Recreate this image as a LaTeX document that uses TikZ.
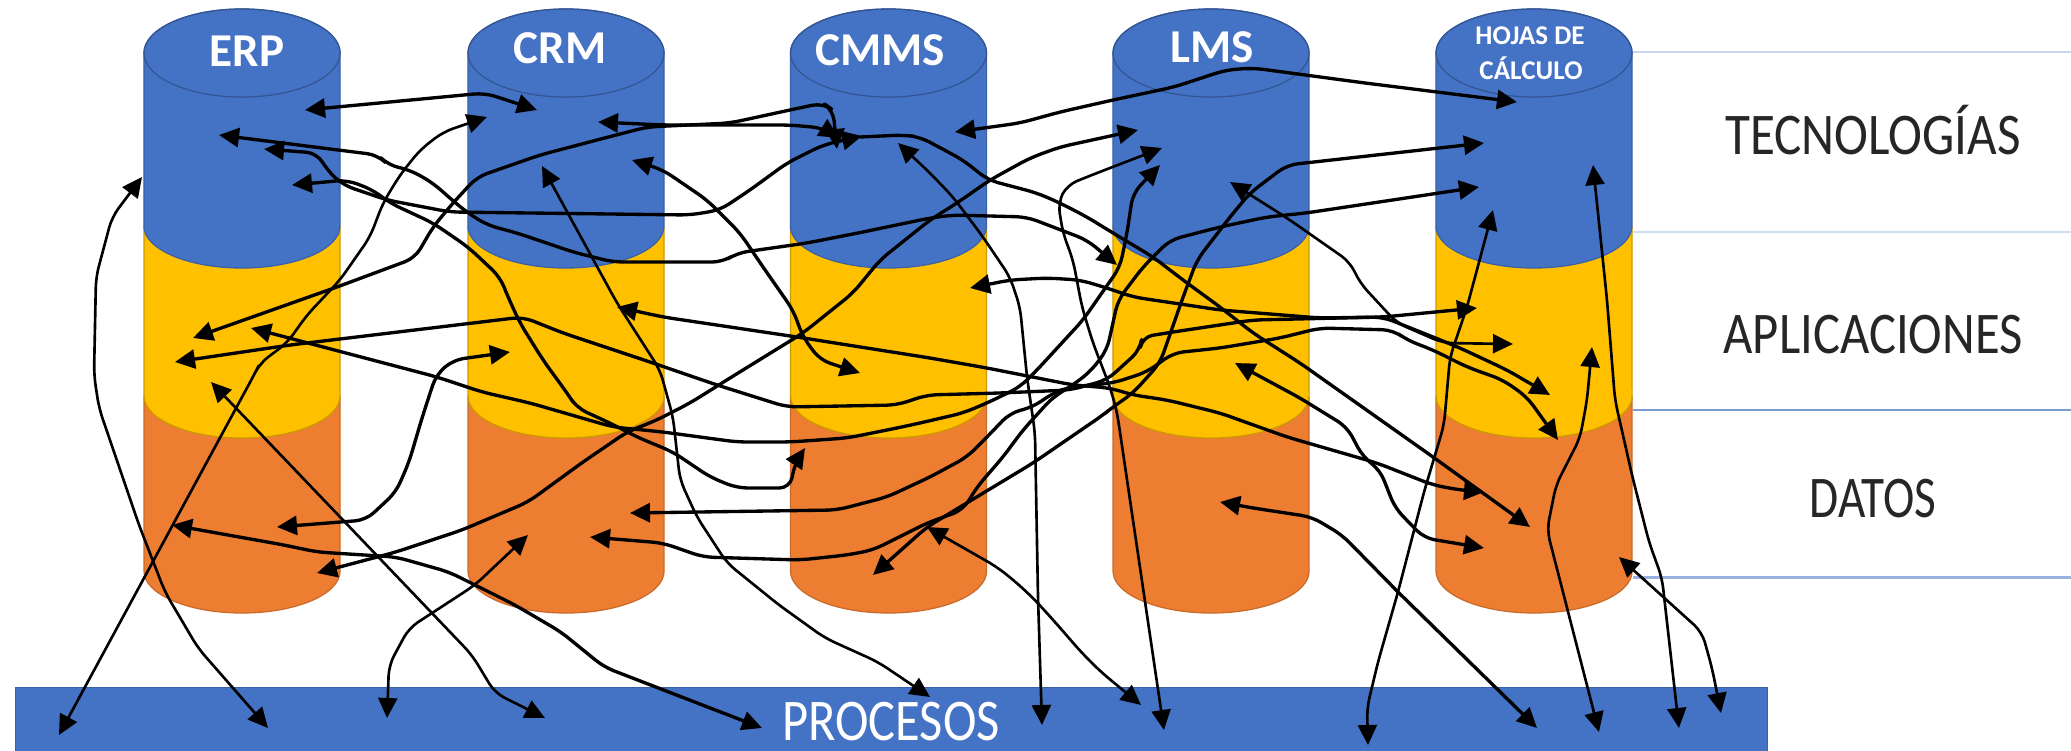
\documentclass[tikz,border=0pt]{standalone}
\usepackage{fontspec}
\setmainfont{Carlito}
\usetikzlibrary{arrows.meta}
\definecolor{cblue}{HTML}{4472C4}
\definecolor{cyel}{HTML}{FFC000}
\definecolor{corg}{HTML}{ED7D31}
\tikzset{
  >={Triangle[length=0.2cm,width=0.19cm]},
  wire/.style={draw=black,line width=0.95pt,rounded corners=3pt,line join=round},
  thinwire/.style={wire,line width=0.75pt},
  rule/.style={line width=0.85pt},
  headlabel/.style={text=white,font=\bfseries\fontsize{13.4}{15}\selectfont,inner sep=0pt},
  smalllabel/.style={text=white,font=\bfseries\fontsize{7.7}{9}\selectfont,inner sep=0pt},
  sidelabel/.style={text=black!85,font=\fontsize{16.8}{20}\selectfont,inner sep=0pt},
}
\begin{document}
\begin{tikzpicture}[x=0.01cm,y=-0.01cm]
\useasboundingbox (0,0) rectangle (2071,751);
% rules at right
\draw[rule,draw=cblue!30] (1633,52) -- (2071,52);
\draw[rule,draw=cblue!25] (1633,232) -- (2071,232);
\draw[rule,draw=cblue!70] (1633,410) -- (2071,410);
\draw[rule,draw=cblue!55] (1633,577) -- (2071,577);
% process bar
\node[fill=cblue,draw=cblue!85!black,line width=0.3pt,inner sep=0pt,minimum width=17.51cm,minimum height=0.64cm,anchor=north west] (bar) at (15,687) {};
% cylinders
\foreach \xa in {144,468,790.5,1113,1436}{
  \pgfmathsetmacro{\xb}{\xa+196}
  \pgfmathsetmacro{\xc}{\xa+98}
  \fill[corg] (\xa,396) -- (\xa,571) arc[start angle=180,end angle=360,x radius=0.98cm,y radius=0.42cm] -- (\xb,396) -- cycle;
  \draw[corg!85!black,line width=0.35pt] (\xa,396) -- (\xa,571) arc[start angle=180,end angle=360,x radius=0.98cm,y radius=0.42cm] -- (\xb,396);
  \fill[cyel] (\xa,226) -- (\xa,396) arc[start angle=180,end angle=360,x radius=0.98cm,y radius=0.42cm] -- (\xb,226) -- cycle;
  \draw[cyel!80!black,line width=0.35pt] (\xa,226) -- (\xa,396) arc[start angle=180,end angle=360,x radius=0.98cm,y radius=0.42cm] -- (\xb,226);
  \fill[cblue] (\xa,53) arc[start angle=180,end angle=0,x radius=0.98cm,y radius=0.44cm] -- (\xb,226) arc[start angle=0,end angle=-180,x radius=0.98cm,y radius=0.42cm] -- cycle;
  \draw[cblue!85!black,line width=0.35pt] (\xa,53) arc[start angle=180,end angle=0,x radius=0.98cm,y radius=0.44cm] -- (\xb,226) arc[start angle=0,end angle=-180,x radius=0.98cm,y radius=0.42cm] -- cycle;
  \draw[cblue!75!black,line width=0.35pt] (\xc,53) ellipse[x radius=0.98cm,y radius=0.44cm];
}
% labels
\node[headlabel] (erp) at (247,51) {ERP};
\node[headlabel] (crm) at (560,48) {CRM};
\node[headlabel] (cmms) at (880,50) {CMMS};
\node[headlabel] (lms) at (1212,47) {LMS};
\node[smalllabel] (hojas) at (1530,36) {HOJAS DE};
\node[smalllabel] (calc) at (1531,68) {CÁLCULO};
\node[sidelabel,anchor=center] (tec) at (1873,130) {\scalebox{0.865}[1]{TECNOLOGÍAS}};
\node[sidelabel] (apl) at (1873,335) {\scalebox{0.857}[1]{APLICACIONES}};
\node[sidelabel] (dat) at (1873,499) {\scalebox{0.8}[1]{DATOS}};
\node[sidelabel,text=white] (pro) at (891,722) {\scalebox{0.855}[1]{PROCESOS}};
% connector ends
\coordinate (a1) at (305,110); \coordinate (b1) at (537,110);
\coordinate (a2) at (219,135); \coordinate (b2) at (1117,265);
\coordinate (a3) at (264,149); \coordinate (b3) at (862,136);
\coordinate (a4) at (598,122); \coordinate (b4) at (839,138);
\coordinate (a5) at (193,338); \coordinate (b5) at (837,149);
\coordinate (a6) at (860,137); \coordinate (b6) at (1530,527);
\coordinate (a7) at (898,143); \coordinate (b7) at (1042,725);
\coordinate (a8) at (632,160); \coordinate (b8) at (860,373);
\coordinate (a9) at (542,166); \coordinate (b9) at (930,697);
\coordinate (a10) at (617,307); \coordinate (b10) at (1484,492);
\coordinate (a11) at (487,117); \coordinate (b11) at (59,735);
\coordinate (a12) at (142,177); \coordinate (b12) at (268,728);
\coordinate (a13) at (175,362); \coordinate (b13) at (1477,308);
\coordinate (a14) at (251,328); \coordinate (b14) at (1160,165);
\coordinate (a15) at (1230,182); \coordinate (b15) at (1513,344);
\coordinate (a16) at (970,288); \coordinate (b16) at (1550,395);
\coordinate (a17) at (1138,130); \coordinate (b17) at (317,573);
\coordinate (a18) at (955,132); \coordinate (b18) at (1517,102);
\coordinate (a19) at (1162,148); \coordinate (b19) at (1164,730);
\coordinate (a23) at (292,185); \coordinate (b23) at (805,448);
\coordinate (a22) at (873,575); \coordinate (b22) at (1484,143);
\coordinate (a25) at (510,352); \coordinate (b25) at (277,527);
\coordinate (a26) at (211,382); \coordinate (b26) at (545,718);
\coordinate (a27) at (172,525); \coordinate (b27) at (762,728);
\coordinate (a28) at (528,535); \coordinate (b28) at (387,718);
\coordinate (a29) at (590,537); \coordinate (b29) at (1479,187);
\coordinate (a30) at (630,513); \coordinate (b30) at (1558,440);
\coordinate (a31) at (927,527); \coordinate (b31) at (1141,705);
\coordinate (a32) at (1220,502); \coordinate (b32) at (1537,728);
\coordinate (a33) at (1493,210); \coordinate (b33) at (1368,745);
\coordinate (a34) at (1592,347); \coordinate (b34) at (1599,732);
\coordinate (a35) at (1593,165); \coordinate (b35) at (1679,728);
\coordinate (a36) at (1619,557); \coordinate (b36) at (1721,713);
\coordinate (a37) at (1235,363); \coordinate (b37) at (1484,548);
% connectors
\draw[wire,<->] (a1) -- (485,93) -- (b1);
\draw[wire,<->] (a2) -- (338,150) -- (378,155) -- (388,165) -- (410,170) -- (433,183) -- (452,200) -- (468,213) -- (487,225) -- (517,233) -- (573,252) -- (613,262) -- (723,262) -- (737,253) -- (807,243) -- (863,232) -- (930,218) -- (953,215) -- (1027,217) -- (1053,227) -- (1087,240) -- (b2);
\draw[wire,<->] (a3) -- (317,153) -- (327,170) -- (343,185) -- (387,200) -- (450,212) -- (690,215) -- (720,210) -- (750,190) -- (787,163) -- (823,145) -- (b3);
\draw[wire,<->] (a4) -- (663,125) -- (790,125) -- (823,128) -- (b4);
\draw[wire,<->] (a5) -- (337,287) -- (415,258) -- (433,227) -- (453,203) -- (477,177) -- (540,155) -- (597,140) -- (647,127) -- (730,123) -- (790,110) -- (823,103) -- (833,110) -- (b5);
\draw[wire,->] (a6) -- (903,135) -- (920,137) -- (963,160) -- (988,180) -- (1037,193) -- (1060,203) -- (1087,217) -- (1113,233) -- (1153,257) -- (1183,280) -- (1220,307) -- (1253,333) -- (1300,363) -- (1433,457) -- (b6);
\draw[thinwire,<->] (a7) -- (930,173) -- (953,197) -- (983,237) -- (1010,277) -- (1020,307) -- (1027,377) -- (1035,433) -- (1038,597) -- (b7);
\draw[wire,<->] (a8) -- (663,170) -- (707,200) -- (740,233) -- (763,267) -- (793,310) -- (803,337) -- (820,360) -- (b8);
\draw[thinwire,<->] (a9) -- (617,303) -- (660,370) -- (673,417) -- (680,480) -- (697,517) -- (727,563) -- (779,605) -- (825,638) -- (878,662) -- (b9);
\draw[wire,<->] (a10) -- (663,317) -- (797,337) -- (930,358) -- (987,368) -- (1073,385) -- (1110,388) -- (1133,395) -- (1167,400) -- (1220,413) -- (1287,437) -- (1377,463) -- (1433,485) -- (1460,490) -- (b10);
\draw[thinwire,<->] (a11) -- (443,132) -- (420,150) -- (400,175) -- (383,203) -- (370,237) -- (340,280) -- (307,315) -- (287,343) -- (260,363) -- (254,375) -- (b11);
\draw[thinwire,<->] (a12) -- (112,217) -- (96,277) -- (94,375) -- (99,408) -- (139,525) -- (165,592) -- (198,648) -- (b12);
\draw[wire,<->] (a13) -- (290,345) -- (473,323) -- (523,317) -- (563,333) -- (650,362) -- (717,385) -- (787,407) -- (897,405) -- (927,395) -- (1000,393) -- (1070,390) -- (1107,380) -- (1140,350) -- (1142,337) -- (1173,332) -- (1253,320) -- (1383,317) -- (b13);
\draw[wire,<->] (a14) -- (437,377) -- (482,392) -- (530,403) -- (613,427) -- (663,432) -- (737,442) -- (790,442) -- (847,438) -- (897,428) -- (920,423) -- (963,413) -- (987,403) -- (1020,387) -- (1037,370) -- (1083,320) -- (1120,267) -- (1127,233) -- (1133,193) -- (b14);
\draw[thinwire,<->] (a15) -- (1287,218) -- (1350,262) -- (1360,283) -- (1397,323) -- (1443,343) -- (b15);
\draw[wire,<->] (a16) -- (1010,280) -- (1047,278) -- (1080,280) -- (1107,288) -- (1133,297) -- (1187,305) -- (1220,310) -- (1320,318) -- (1383,317) -- (1433,337) -- (1460,348) -- (1507,370) -- (b16);
\draw[wire,<->] (a17) -- (1060,147) -- (1030,158) -- (990,180) -- (957,203) -- (930,220) -- (880,260) -- (853,293) -- (803,333) -- (730,378) -- (690,403) -- (657,420) -- (627,432) -- (583,462) -- (528,502) -- (462,530) -- (396,552) -- (b17);
\draw[wire,<->] (a18) -- (1020,123) -- (1060,112) -- (1113,100) -- (1174,87) -- (1226,70) -- (1253,68) -- (1365,83) -- (b18);
\draw[thinwire,<->] (a19) -- (1097,173) -- (1067,185) -- (1058,203) -- (1063,233) -- (1073,260) -- (1082,307) -- (1093,343) -- (1110,387) -- (1117,412) -- (b19);
\draw[wire,<->] (a22) -- (927,527) -- (1033,463) -- (1103,415) -- (1113,407) -- (1133,393) -- (1160,363) -- (1182,300) -- (1197,260) -- (1230,217) -- (1250,193) -- (1287,165) -- (b22);
\draw[wire,<->] (a23) -- (347,180) -- (373,190) -- (390,203) -- (433,223) -- (468,247) -- (500,277) -- (508,297) -- (520,323) -- (543,360) -- (567,393) -- (577,408) -- (610,423) -- (637,437) -- (673,452) -- (710,477) -- (737,488) -- (790,488) -- (795,463) -- (b23);
\draw[wire,<->] (a25) -- (453,360) -- (436,375) -- (422,418) -- (409,462) -- (396,492) -- (366,520) -- (b25);
\draw[thinwire,<->] (a26) -- (472,655) -- (495,693) -- (b26);
\draw[wire,<->] (a27) -- (284,545) -- (317,552) -- (396,557) -- (449,572) -- (515,605) -- (561,632) -- (604,667) -- (b27);
\draw[thinwire,<->] (a28) -- (475,585) -- (449,602) -- (409,628) -- (389,665) -- (b28);
\draw[wire,<->] (a29) -- (663,543) -- (703,557) -- (800,560) -- (847,555) -- (873,550) -- (927,523) -- (963,510) -- (977,487) -- (1003,457) -- (1023,430) -- (1053,397) -- (1070,387) -- (1090,372) -- (1107,350) -- (1118,300) -- (1143,267) -- (1170,240) -- (1220,227) -- (1267,217) -- (1306,213) -- (b29);
\draw[wire,<->] (a30) -- (837,510) -- (887,497) -- (930,477) -- (967,457) -- (987,437) -- (1010,413) -- (1033,407) -- (1053,393) -- (1070,387) -- (1113,383) -- (1147,372) -- (1173,353) -- (1220,348) -- (1280,338) -- (1320,328) -- (1393,330) -- (1407,340) -- (1433,350) -- (1467,367) -- (1503,380) -- (1527,397) -- (b30);
\draw[thinwire,<->] (a31) -- (962,547) -- (997,567) -- (1017,583) -- (1035,600) -- (1055,622) -- (1081,652) -- (1101,672) -- (b31);
\draw[wire,<->] (a32) -- (1253,508) -- (1312,517) -- (1342,535) -- (1398,592) -- (b32);
\draw[thinwire,<->] (a33) -- (1467,307) -- (1450,357) -- (1444,425) -- (1424,492) -- (1398,592) -- (1378,662) -- (1367,708) -- (b33);
\draw[thinwire,<->] (a34) -- (1587,400) -- (1580,438) -- (1556,485) -- (1547,530) -- (b34);
\draw[thinwire,<->] (a35) -- (1607,300) -- (1615,400) -- (1632,475) -- (1649,542) -- (1662,578) -- (b35);
\draw[thinwire,<->] (a36) -- (1702,632) -- (1712,668) -- (b36);
\draw[wire,<->] (a37) -- (1300,398) -- (1347,427) -- (1363,457) -- (1380,470) -- (1395,508) -- (1424,538) -- (b37);
\end{tikzpicture}
\end{document}
